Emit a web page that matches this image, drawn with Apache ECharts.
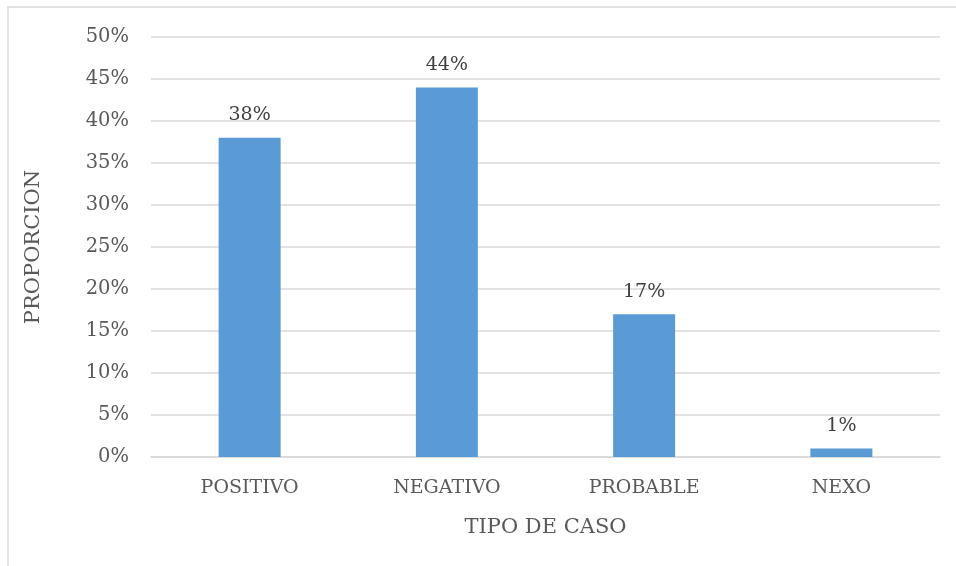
<!DOCTYPE html>
<html>
<head>
<meta charset="utf-8">
<script src="https://cdn.jsdelivr.net/npm/echarts@6/dist/echarts.min.js"></script>
<style>
  html, body { margin: 0; padding: 0; background: #fff; }
  #chart { width: 956px; height: 566px; }
</style>
</head>
<body>
<div id="chart"></div>
<script>
// 数据
var categories = ['POSITIVO', 'NEGATIVO', 'PROBABLE', 'NEXO'];
var proportions = [38, 44, 17, 1]; // 百分比
var yTicks = [0, 5, 10, 15, 20, 25, 30, 35, 40, 45, 50];

var font = 'DejaVu Serif';
var txt = '#595959';

var chart = echarts.init(document.getElementById('chart'));

var option = {
  animation: false,
  backgroundColor: '#fff',
  textStyle: { fontFamily: font },
  // 外框
  graphic: [{
    type: 'rect',
    shape: { x: 8, y: 7, width: 960, height: 570 },
    style: { fill: 'none', stroke: '#d9d9d9', lineWidth: 1.5 },
    silent: true
  }],
  grid: { left: 151, right: 16, top: 37, bottom: 109, containLabel: false },
  xAxis: {
    type: 'category',
    data: categories,
    name: 'TIPO DE CASO',
    nameLocation: 'middle',
    nameGap: 60,
    nameTextStyle: { color: txt, fontSize: 21, fontFamily: font },
    axisLine: { show: true, lineStyle: { color: '#d9d9d9', width: 1.5 } },
    axisTick: { show: false },
    axisLabel: { color: txt, fontSize: 19, margin: 22, fontFamily: font }
  },
  yAxis: {
    type: 'value',
    min: yTicks[0],
    max: yTicks[yTicks.length - 1],
    interval: 5,
    name: 'PROPORCION',
    nameLocation: 'middle',
    nameRotate: 90,
    nameGap: 107,
    nameTextStyle: { color: txt, fontSize: 21, fontFamily: font },
    axisLine: { show: false },
    axisTick: { show: false },
    axisLabel: { color: txt, fontSize: 19.5, margin: 22, fontFamily: font, formatter: '{value}%', padding: [4, 0, 0, 0] },
    splitLine: { lineStyle: { color: '#d9d9d9', width: 1.5 } }
  },
  series: [{
    type: 'bar',
    data: proportions,
    barWidth: 62,
    itemStyle: { color: '#5b9bd5' },
    label: {
      show: true,
      position: 'top',
      distance: 13,
      formatter: '{c}%',
      color: '#404040',
      fontSize: 19,
      fontFamily: font
    }
  }]
};

chart.setOption(option);
</script>
</body>
</html>
